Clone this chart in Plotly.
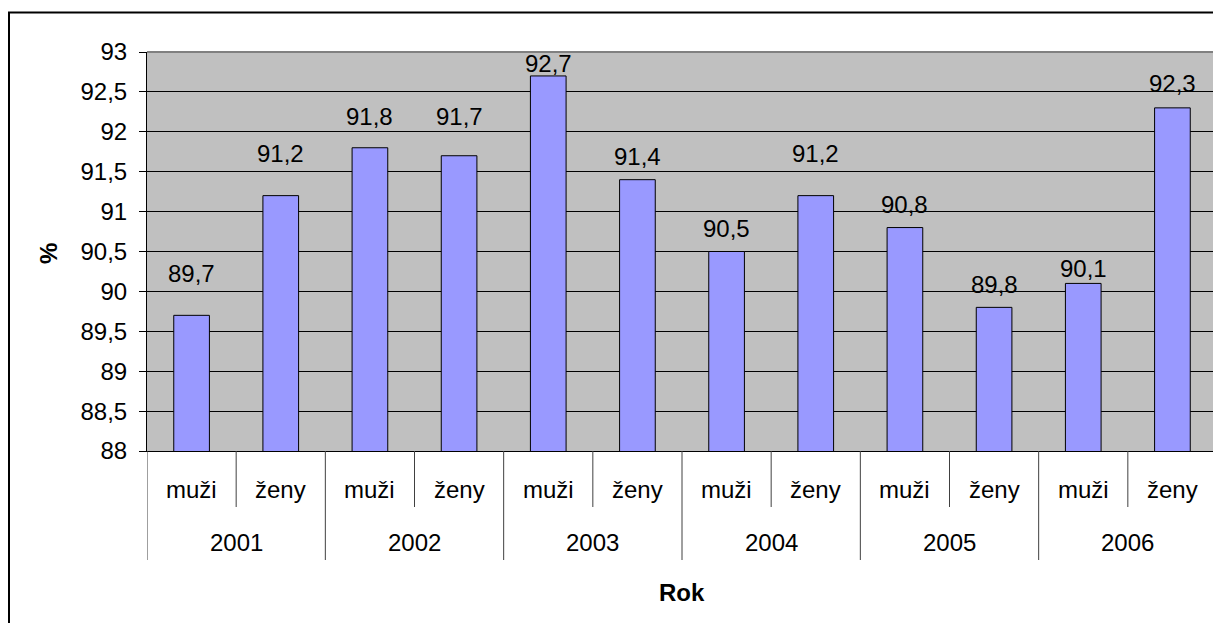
import plotly.graph_objects as go

years = ["2001", "2002", "2003", "2004", "2005", "2006"]
genders = ["muži", "ženy"]
values = [89.7, 91.2, 91.8, 91.7, 92.7, 91.4, 90.5, 91.2, 90.8, 89.8, 90.1, 92.3]
y_ticks = [88, 88.5, 89, 89.5, 90, 90.5, 91, 91.5, 92, 92.5, 93]

# label placement tweak (pixels above bar top), as in the original
label_dy = [42, 43, 32, 40, 13, 24, 24, 43, 24, 23, 15, 25]

FONT = "Liberation Sans, Arial, sans-serif"
OFF = 8  # page body margin in the browser
W, H = 1221 - OFF, 623 - OFF
# target plot area in screen pixels: x 147..1217, y 52..451
ML = 147 - OFF
MT = 52 - OFF
MR = W - (1217 - OFF)
MB = H - (451 - OFF)
PW, PH = W - ML - MR, H - MT - MB

def px_x(p):
    return (p - OFF - ML) / PW

def px_y(p):
    return (H - MB - (p - OFF)) / PH

n = len(values)
xs = list(range(n))
cat_labels = [genders[i % 2] for i in xs]

fig = go.Figure()
fig.add_trace(go.Bar(
    x=xs, y=values, width=0.4,
    marker=dict(color="#9999FF", line=dict(color="#000000", width=1)),
    hoverinfo="y",
))

annotations = []
for i, v in enumerate(values):
    annotations.append(dict(
        x=i, y=v, xref="x", yref="y", text=f"{v:.1f}".replace(".", ","),
        showarrow=False, yanchor="middle", yshift=label_dy[i] - 0.5,
        font=dict(family=FONT, size=24, color="#000"),
    ))
for i, g in enumerate(cat_labels):
    annotations.append(dict(
        x=i, y=px_y(489.5), xref="x", yref="paper", text=g, showarrow=False,
        yanchor="middle", font=dict(family=FONT, size=24, color="#000"),
    ))
for k, yr in enumerate(years):
    annotations.append(dict(
        x=2 * k + 0.5, y=px_y(542.5), xref="x", yref="paper", text=yr, showarrow=False,
        yanchor="middle", font=dict(family=FONT, size=24, color="#000"),
    ))
annotations.append(dict(
    x=0.5, y=px_y(592), xref="paper", yref="paper", text="<b>Rok</b>", showarrow=False,
    yanchor="middle", font=dict(family=FONT, size=24, color="#000"),
))
annotations.append(dict(
    x=px_x(48), y=px_y(254), xref="paper", yref="paper", text="<b>%</b>", showarrow=False,
    textangle=-90, xanchor="center", yanchor="middle",
    font=dict(family=FONT, size=24, color="#000"),
))

shapes = []
# category separators
for b in range(n + 1):
    x = b - 0.5
    bottom = px_y(560) if b % 2 == 0 else px_y(507)
    shapes.append(dict(type="line", xref="x", yref="paper", x0=x, x1=x, y0=0, y1=bottom,
                       line=dict(color="#404040", width=1)))
# plot-area border (top and right, gray)
shapes.append(dict(type="line", xref="paper", yref="paper", x0=0, x1=1, y0=1, y1=1,
                   line=dict(color="#808080", width=2), layer="above"))
shapes.append(dict(type="line", xref="paper", yref="paper", x0=1, x1=1, y0=0, y1=1,
                   line=dict(color="#808080", width=2), layer="above"))
# outer chart border
shapes.append(dict(type="rect", xref="paper", yref="paper",
                   x0=px_x(9), x1=px_x(1235), y0=px_y(640), y1=px_y(12.5),
                   line=dict(color="#000", width=2), fillcolor="rgba(0,0,0,0)"))

fig.update_layout(
    width=W, height=H,
    margin=dict(l=ML, r=MR, t=MT, b=MB, pad=0),
    paper_bgcolor="#FFFFFF", plot_bgcolor="#C0C0C0",
    separators=", ",
    showlegend=False,
    font=dict(family=FONT, size=24, color="#000"),
    xaxis=dict(range=[-0.5, n - 0.5], showticklabels=False, showgrid=False,
               zeroline=False, showline=True, linecolor="#000", linewidth=1, ticks=""),
    yaxis=dict(range=[88, 93], tickvals=y_ticks, showgrid=True, gridcolor="#000",
               gridwidth=1, zeroline=False, showline=True, linecolor="#000", linewidth=1,
               ticks="outside", ticklen=7, tickcolor="#000",
               tickfont=dict(family=FONT, size=24, color="#000"),
               ticklabelstandoff=7),
    annotations=annotations,
    shapes=shapes,
)

fig.write_html("out.html")
